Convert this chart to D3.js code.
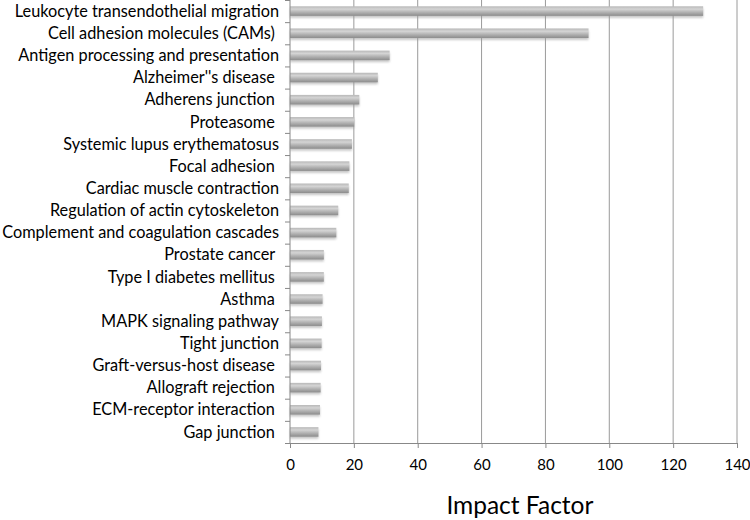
<!DOCTYPE html>
<html>
<head>
<meta charset="utf-8">
<script src="https://cdn.jsdelivr.net/npm/d3@7"></script>
<style>
  body { margin: 0; background: #fff; }
  text { font-family: "Lato", "Open Sans", sans-serif; fill: #000; }
</style>
</head>
<body>
<div id="chart"></div>
<script>
// pathways, top to bottom
const pathways = [
  "Leukocyte transendothelial migration",
  "Cell adhesion molecules (CAMs) ",
  "Antigen processing and presentation",
  "Alzheimer''s disease ",
  "Adherens junction ",
  "Proteasome ",
  "Systemic lupus erythematosus",
  "Focal adhesion ",
  "Cardiac muscle contraction",
  "Regulation of actin cytoskeleton",
  "Complement and coagulation cascades",
  "Prostate cancer ",
  "Type I diabetes mellitus ",
  "Asthma ",
  "MAPK signaling pathway",
  "Tight junction",
  "Graft-versus-host disease ",
  "Allograft rejection ",
  "ECM-receptor interaction ",
  "Gap junction "
];
const impact = [129.4, 93.5, 31.2, 27.5, 21.7, 20.1, 19.4, 18.6, 18.4, 15.1,
                14.5, 10.6, 10.6, 10.2, 10.0, 9.9, 9.7, 9.6, 9.4, 8.9];
const xTicks = [0, 20, 40, 60, 80, 100, 120, 140];
const xTitle = "Impact Factor";

const width = 750, height = 520;
const margin = { left: 290, right: 13, top: 0, bottom: 77 };
const w = width - margin.left - margin.right;
const h = height - margin.top - margin.bottom;

const svg = d3.select("#chart").append("svg")
  .attr("width", width)
  .attr("height", height);

// gradient + schaduw voor de "3D" balken
const defs = svg.append("defs");
const grad = defs.append("linearGradient")
  .attr("id", "barGrad")
  .attr("x1", 0).attr("y1", 0).attr("x2", 0).attr("y2", 1);
grad.append("stop").attr("offset", "0%").attr("stop-color", "#b8b8b8");
grad.append("stop").attr("offset", "30%").attr("stop-color", "#d4d4d4");
grad.append("stop").attr("offset", "60%").attr("stop-color", "#b4b4b4");
grad.append("stop").attr("offset", "100%").attr("stop-color", "#8c8c8c");
defs.append("filter").attr("id", "blur")
  .attr("x", "-10%").attr("y", "-50%").attr("width", "120%").attr("height", "200%")
  .append("feGaussianBlur").attr("stdDeviation", 1.3);

const g = svg.append("g")
  .attr("transform", "translate(" + margin.left + "," + margin.top + ")");

const xScale = d3.scaleLinear().domain([0, 140]).range([0, w]);
const yScale = d3.scaleBand().domain(pathways).range([0, h]).paddingInner(0.57).paddingOuter(0.285);
const yBand = d3.scaleBand().domain(pathways).range([0, h]);

// verticale gridlijnen
g.append("g").selectAll("line")
  .data(xTicks.slice(1))
  .join("line")
  .attr("x1", d => xScale(d)).attr("x2", d => xScale(d))
  .attr("y1", 0).attr("y2", h)
  .attr("stroke", "#9a9a9a")
  .attr("stroke-width", 1);

// schaduw
g.append("g").selectAll("rect")
  .data(impact)
  .join("rect")
  .attr("x", 0)
  .attr("y", (d, i) => yScale(pathways[i]) + 2)
  .attr("width", d => xScale(d))
  .attr("height", yScale.bandwidth())
  .attr("fill", "#999")
  .attr("opacity", 0.55)
  .attr("filter", "url(#blur)");

// balken
g.append("g").selectAll("rect")
  .data(impact)
  .join("rect")
  .attr("x", 0)
  .attr("y", (d, i) => yScale(pathways[i]))
  .attr("width", d => xScale(d))
  .attr("height", yScale.bandwidth())
  .attr("fill", "url(#barGrad)");

// y-as: lijn + ticks op de grenzen
const yAxisG = g.append("g");
yAxisG.append("line")
  .attr("x1", 0).attr("x2", 0).attr("y1", 0).attr("y2", h)
  .attr("stroke", "#888");
yAxisG.selectAll("line.tk")
  .data(pathways.concat(["end"]))
  .join("line")
  .attr("class", "tk")
  .attr("x1", -5).attr("x2", 0)
  .attr("y1", (d, i) => i * yBand.step() + 0.5)
  .attr("y2", (d, i) => i * yBand.step() + 0.5)
  .attr("stroke", "#888");
yAxisG.selectAll("text")
  .data(pathways)
  .join("text")
  .attr("x", -11)
  .attr("y", d => yBand(d) + yBand.bandwidth() / 2)
  .attr("dy", "0.35em")
  .attr("text-anchor", "end")
  .style("white-space", "pre")
  .attr("font-size", 16.3)
  .text(d => d);

// x-as
const xAxis = d3.axisBottom(xScale)
  .tickValues(xTicks)
  .tickSize(5)
  .tickPadding(11);
const xAxisG = g.append("g")
  .attr("transform", "translate(0," + h + ")")
  .call(xAxis);
xAxisG.select(".domain").attr("stroke", "#888");
xAxisG.selectAll(".tick line").attr("stroke", "#888");
xAxisG.selectAll(".tick text")
  .attr("font-family", "Lato, 'Open Sans', sans-serif")
  .attr("font-size", 15)
  .attr("fill", "#000");

// as-titel
g.append("text")
  .attr("x", xScale(72))
  .attr("y", h + 71)
  .attr("text-anchor", "middle")
  .attr("font-size", 24.5)
  .text(xTitle);
</script>
</body>
</html>
